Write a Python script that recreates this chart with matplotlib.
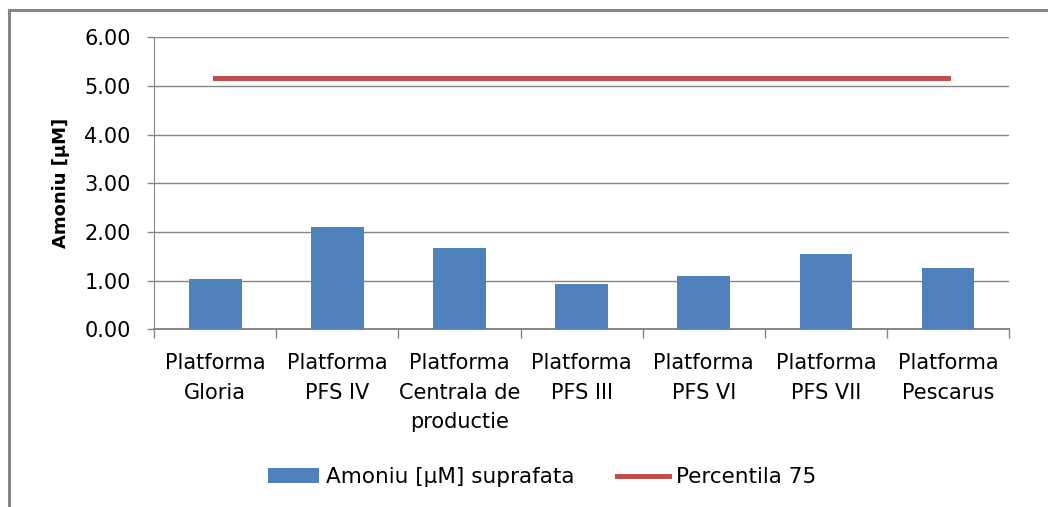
import matplotlib.pyplot as plt
from matplotlib.lines import Line2D
import numpy as np

categories = ["Platforma\nGloria", "Platforma\nPFS IV", "Platforma\nCentrala de\nproductie",
              "Platforma\nPFS III", "Platforma\nPFS VI", "Platforma\nPFS VII", "Platforma\nPescarus"]
amoniu = [1.03, 2.10, 1.67, 0.93, 1.10, 1.55, 1.26]
percentila75 = [5.16] * 7

blue = "#4F81BD"
red = "#C0504D"
grey = "#868686"

plt.rcParams['font.family'] = ['DejaVu Sans']

fig = plt.figure(figsize=(10.48, 5.07), dpi=100)
ax = fig.add_axes([0.1472, 0.3505, 0.8156, 0.5759])

x = np.arange(len(categories))
bars = ax.bar(x, amoniu, width=0.43, color=blue, label="Amoniu [µM] suprafata", zorder=3)
line, = ax.plot(x, percentila75, color=red, linewidth=3.6, label="Percentila 75", zorder=4)

ax.set_xlim(-0.5, len(categories) - 0.5)
ax.set_ylim(0, 6)
ax.set_yticks(np.arange(0, 7, 1))
ax.set_yticklabels(["%.2f" % v for v in np.arange(0, 7, 1)], fontsize=15)
ax.yaxis.grid(True, color=grey, linewidth=1.0, zorder=0)

ax.set_xticks(x)
ax.set_xticklabels(categories, fontsize=15, linespacing=1.6)
ax.set_xticks(np.arange(-0.5, len(categories), 1), minor=True)
ax.tick_params(axis='x', which='major', length=0, pad=17)
ax.tick_params(axis='x', which='minor', length=6.5, color=grey, width=1.0)
ax.tick_params(axis='y', length=5, color=grey, width=1.0, pad=12)

for side in ['top', 'right']:
    ax.spines[side].set_visible(False)
ax.spines['left'].set_color(grey)
ax.spines['bottom'].set_color(grey)
ax.spines['bottom'].set_linewidth(1.4)

ax.set_ylabel("Amoniu [µM]", fontsize=13, fontweight='bold', labelpad=10)

fig.legend(handles=[bars, line], loc='center', bbox_to_anchor=(0.517, 0.059), ncol=2,
           frameon=False, fontsize=15.5, handlelength=2.4, handletextpad=0.3, columnspacing=2.0)

# chart border (right and bottom edges fall outside the picture)
fig.add_artist(Line2D([9 / 1048, 1.0], [1 - 10 / 507, 1 - 10 / 507],
                      transform=fig.transFigure, color=grey, linewidth=2.2))
fig.add_artist(Line2D([9 / 1048, 9 / 1048], [0, 1 - 10 / 507],
                      transform=fig.transFigure, color=grey, linewidth=2.2))

fig.savefig("out.png", dpi=100)
